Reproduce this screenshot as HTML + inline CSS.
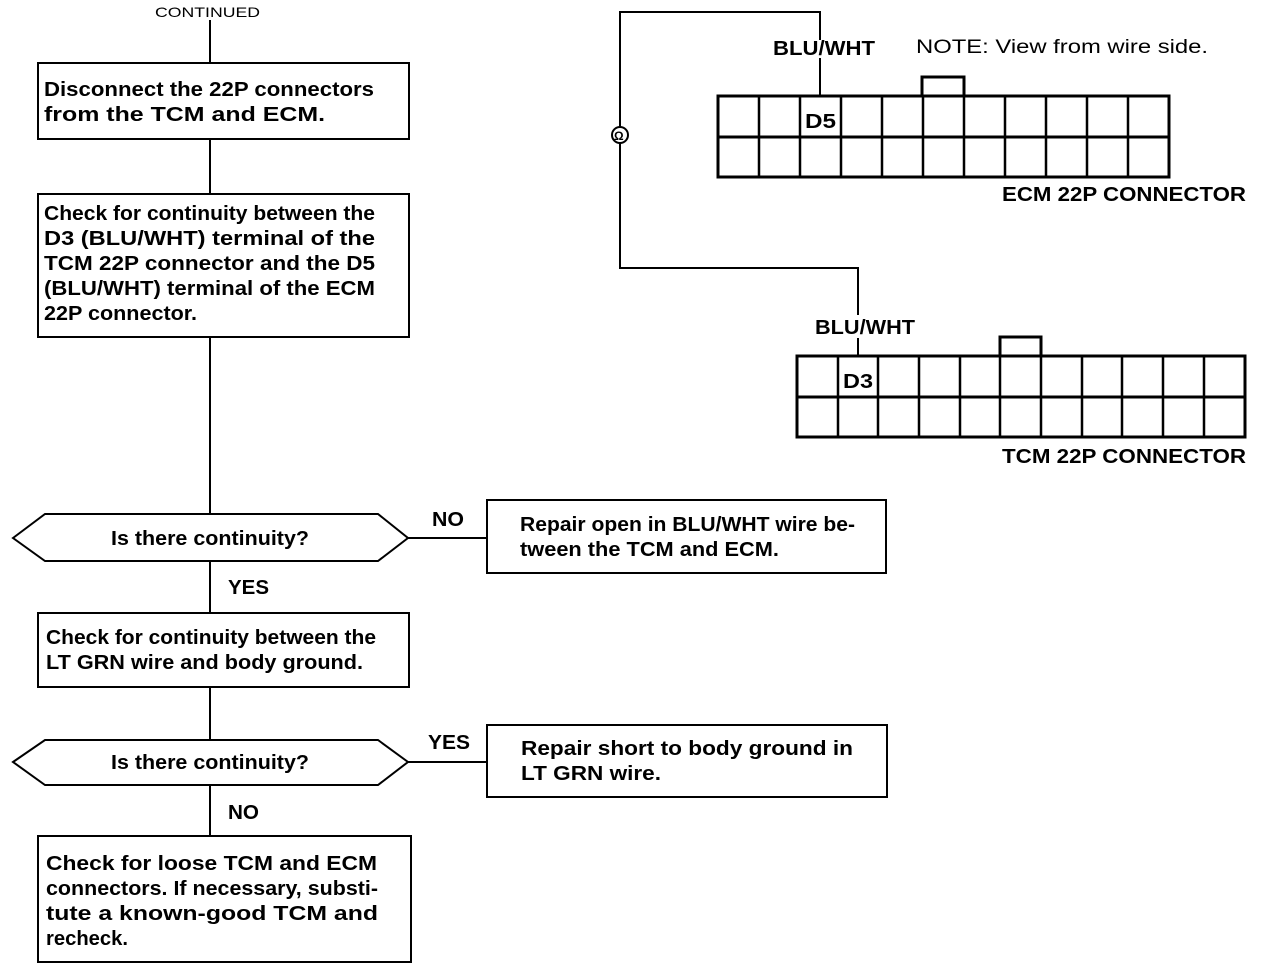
<!DOCTYPE html>
<html><head><style>
html,body{margin:0;padding:0;background:#fff;}
svg{display:block;}
text{font-family:"Liberation Sans",Arial,sans-serif;fill:#000;}
.t{font-size:20px;font-weight:bold;}
.n{font-size:19px;}
.b{font-size:20px;font-weight:bold;}
</style></head><body>
<svg width="1264" height="970" viewBox="0 0 1264 970" xmlns="http://www.w3.org/2000/svg">
<g stroke="#000" stroke-width="2" fill="none">
<line x1="210" y1="20" x2="210" y2="63"/>
<line x1="210" y1="139" x2="210" y2="194"/>
<line x1="210" y1="337" x2="210" y2="514"/>
<line x1="210" y1="561" x2="210" y2="613"/>
<line x1="210" y1="687" x2="210" y2="740"/>
<line x1="210" y1="785" x2="210" y2="836"/>
<rect x="38" y="63" width="371" height="76"/>
<rect x="38" y="194" width="371" height="143"/>
<polygon points="13,538 45,514 378,514 408,538 378,561 45,561"/>
<line x1="408" y1="538" x2="487" y2="538"/>
<rect x="487" y="500" width="399" height="73"/>
<rect x="38" y="613" width="371" height="74"/>
<polygon points="13,762 45,740 378,740 408,762 378,785 45,785"/>
<line x1="408" y1="762" x2="487" y2="762"/>
<rect x="487" y="725" width="400" height="72"/>
<rect x="38" y="836" width="373" height="126"/>
<polyline points="820,40 820,12 620,12 620,127"/>
<line x1="820" y1="58" x2="820" y2="96"/>
<circle cx="620" cy="135" r="8"/>
<polyline points="620,143 620,268 858,268 858,315"/>
<line x1="858" y1="338" x2="858" y2="356"/>
<rect x="718" y="96" width="451" height="81" stroke-width="3"/>
<line x1="718" y1="137" x2="1169" y2="137" stroke-width="3"/>
<rect x="922" y="77" width="42" height="19" stroke-width="3"/>
<rect x="797" y="356" width="448" height="81" stroke-width="3"/>
<line x1="797" y1="397" x2="1245" y2="397" stroke-width="3"/>
<rect x="1000" y="337" width="41" height="19" stroke-width="3"/>
</g>
<g stroke="#000" stroke-width="2.5">
<line x1="759" y1="96" x2="759" y2="177"/><line x1="800" y1="96" x2="800" y2="177"/><line x1="841" y1="96" x2="841" y2="177"/><line x1="882" y1="96" x2="882" y2="177"/><line x1="923" y1="96" x2="923" y2="177"/><line x1="964" y1="96" x2="964" y2="177"/><line x1="1005" y1="96" x2="1005" y2="177"/><line x1="1046" y1="96" x2="1046" y2="177"/><line x1="1087" y1="96" x2="1087" y2="177"/><line x1="1128" y1="96" x2="1128" y2="177"/>
<line x1="838" y1="356" x2="838" y2="437"/><line x1="878" y1="356" x2="878" y2="437"/><line x1="919" y1="356" x2="919" y2="437"/><line x1="960" y1="356" x2="960" y2="437"/><line x1="1000" y1="356" x2="1000" y2="437"/><line x1="1041" y1="356" x2="1041" y2="437"/><line x1="1082" y1="356" x2="1082" y2="437"/><line x1="1122" y1="356" x2="1122" y2="437"/><line x1="1163" y1="356" x2="1163" y2="437"/><line x1="1204" y1="356" x2="1204" y2="437"/>
</g>
<g lengthAdjust="spacingAndGlyphs">
<text x="155" y="17" style="font-size:14px" textLength="105" lengthAdjust="spacingAndGlyphs">CONTINUED</text>
<text class="t" x="44" y="96" textLength="330" lengthAdjust="spacingAndGlyphs">Disconnect the 22P connectors</text>
<text class="t" x="44" y="121" textLength="281" lengthAdjust="spacingAndGlyphs">from the TCM and ECM.</text>
<text class="t" x="44" y="220" textLength="331" lengthAdjust="spacingAndGlyphs">Check for continuity between the</text>
<text class="t" x="44" y="245" textLength="331" lengthAdjust="spacingAndGlyphs">D3 (BLU/WHT) terminal of the</text>
<text class="t" x="44" y="270" textLength="331" lengthAdjust="spacingAndGlyphs">TCM 22P connector and the D5</text>
<text class="t" x="44" y="295" textLength="331" lengthAdjust="spacingAndGlyphs">(BLU/WHT) terminal of the ECM</text>
<text class="t" x="44" y="320" textLength="153" lengthAdjust="spacingAndGlyphs">22P connector.</text>
<text class="t" x="111" y="545" textLength="198" lengthAdjust="spacingAndGlyphs">Is there continuity?</text>
<text class="t" x="432" y="526" textLength="32" lengthAdjust="spacingAndGlyphs">NO</text>
<text class="b" x="520" y="531" textLength="335" lengthAdjust="spacingAndGlyphs">Repair open in BLU/WHT wire be-</text>
<text class="b" x="520" y="556" textLength="259" lengthAdjust="spacingAndGlyphs">tween the TCM and ECM.</text>
<text class="t" x="228" y="594" textLength="41" lengthAdjust="spacingAndGlyphs">YES</text>
<text class="t" x="46" y="644" textLength="330" lengthAdjust="spacingAndGlyphs">Check for continuity between the</text>
<text class="t" x="46" y="669" textLength="317" lengthAdjust="spacingAndGlyphs">LT GRN wire and body ground.</text>
<text class="t" x="111" y="769" textLength="198" lengthAdjust="spacingAndGlyphs">Is there continuity?</text>
<text class="t" x="428" y="749" textLength="42" lengthAdjust="spacingAndGlyphs">YES</text>
<text class="b" x="521" y="755" textLength="332" lengthAdjust="spacingAndGlyphs">Repair short to body ground in</text>
<text class="b" x="521" y="780" textLength="140" lengthAdjust="spacingAndGlyphs">LT GRN wire.</text>
<text class="t" x="228" y="819" textLength="31" lengthAdjust="spacingAndGlyphs">NO</text>
<text class="b" x="46" y="870" textLength="331" lengthAdjust="spacingAndGlyphs">Check for loose TCM and ECM</text>
<text class="b" x="46" y="895" textLength="332" lengthAdjust="spacingAndGlyphs">connectors. If necessary, substi-</text>
<text class="b" x="46" y="920" textLength="332" lengthAdjust="spacingAndGlyphs">tute a known-good TCM and</text>
<text class="b" x="46" y="945" textLength="82" lengthAdjust="spacingAndGlyphs">recheck.</text>
<text class="b" x="773" y="55" textLength="102" lengthAdjust="spacingAndGlyphs">BLU/WHT</text>
<text class="n" x="916" y="53" textLength="292" lengthAdjust="spacingAndGlyphs">NOTE: View from wire side.</text>
<text class="b" x="805" y="128" textLength="31" lengthAdjust="spacingAndGlyphs">D5</text>
<text class="b" x="1002" y="201" textLength="244" lengthAdjust="spacingAndGlyphs">ECM 22P CONNECTOR</text>
<text class="b" x="815" y="334" textLength="100" lengthAdjust="spacingAndGlyphs">BLU/WHT</text>
<text class="b" x="843" y="388" textLength="30" lengthAdjust="spacingAndGlyphs">D3</text>
<text class="b" x="1002" y="463" textLength="244" lengthAdjust="spacingAndGlyphs">TCM 22P CONNECTOR</text>
<text x="614" y="140" style="font-size:12px;font-weight:bold">Ω</text>
</g>
</svg>
</body></html>
